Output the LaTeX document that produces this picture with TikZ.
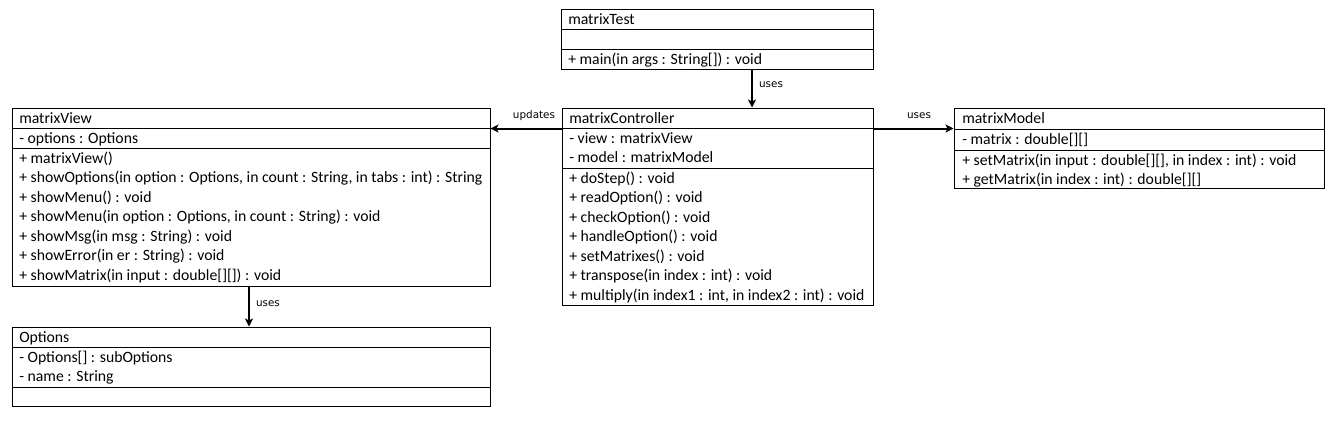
\documentclass[tikz,border=0pt]{standalone}
\usepackage{fontspec}
\setmainfont{Carlito}
\newfontfamily\lblfont{DejaVu Sans}
\usetikzlibrary{arrows.meta,fit}
\begin{document}
\begin{tikzpicture}[x=0.75pt,y=-0.75pt,
  sect/.style={draw, line width=0.75pt, inner sep=0pt},
  row/.style={anchor=west, inner sep=0pt, text height=8.2pt, text depth=1.8pt, font=\fontsize{11.8}{14}\selectfont},
  lbl/.style={font=\lblfont\fontsize{7.8}{9}\selectfont, inner sep=0pt},
  conn/.style={line width=1.5pt, -{Stealth[length=6pt,width=6pt,inset=1.5pt]}}]
\useasboundingbox (0,0) rectangle (1338,426);

% ---------- matrixTest ----------
\node[sect, fit={(561,9)(873,29)}] (mth) {};
\node[sect, fit={(561,29)(873,49)}] (mta) {};
\node[sect, fit={(561,49)(873,69)}] (mtm) {};
\node[row] at (568,20) {matrixTest};
\node[row] at (568,60) {+ main(in args : String[]) : void};

% ---------- matrixController ----------
\node[sect, fit={(562,108)(873,128)}] (mch) {};
\node[sect, fit={(562,128)(873,168)}] (mca) {};
\node[sect, fit={(562,168)(873,305)}] (mcm) {};
\node[row] at (569,119) {matrixController};
\foreach \t [count=\i from 0] in {{- view : matrixView},{- model : matrixModel}}
  \node[row] at (569,139+19.5*\i) {\t};
\foreach \t [count=\i from 0] in {{+ doStep() : void},{+ readOption() : void},{+ checkOption() : void},{+ handleOption() : void},{+ setMatrixes() : void},{+ transpose(in index : int) : void},{+ multiply(in index1 : int, in index2 : int) : void}}
  \node[row] at (569,179+19.5*\i) {\t};

% ---------- matrixView ----------
\node[sect, fit={(12,108)(490,128)}] (mvh) {};
\node[sect, fit={(12,128)(490,148)}] (mva) {};
\node[sect, fit={(12,148)(490,286)}] (mvm) {};
\node[row] at (19,119) {matrixView};
\node[row] at (19,139) {- options : Options};
\foreach \t [count=\i from 0] in {{+ matrixView()},{+ showOptions(in option : Options, in count : String, in tabs : int) : String},{+ showMenu() : void},{+ showMenu(in option : Options, in count : String) : void},{+ showMsg(in msg : String) : void},{+ showError(in er : String) : void},{+ showMatrix(in input : double[][]) : void}}
  \node[row] at (19,159+19.5*\i) {\t};

% ---------- matrixModel ----------
\node[sect, fit={(954,108)(1324,129)}] (mmh) {};
\node[sect, fit={(954,129)(1324,150)}] (mma) {};
\node[sect, fit={(954,150)(1324,188)}] (mmm) {};
\node[row] at (962,119) {matrixModel};
\node[row] at (962,140) {- matrix : double[][]};
\foreach \t [count=\i from 0] in {{+ setMatrix(in input : double[][], in index : int) : void},{+ getMatrix(in index : int) : double[][]}}
  \node[row] at (962,161+19.5*\i) {\t};

% ---------- Options ----------
\node[sect, fit={(12,327)(490,347)}] (oph) {};
\node[sect, fit={(12,347)(490,387)}] (opa) {};
\node[sect, fit={(12,387)(490,406)}] (opm) {};
\node[row] at (19,338) {Options};
\foreach \t [count=\i from 0] in {{- Options[] : subOptions},{- name : String}}
  \node[row] at (19,358+19.5*\i) {\t};

% ---------- connectors ----------
\coordinate (ax) at (752,0);
\draw[conn] (mtm.south -| ax) -- (mch.north -| ax);
\draw[conn] (mch.south west) -- (mch.south west -| mvh.east);
\draw[conn] (mch.south east) -- (mch.south east -| mmh.west);
\coordinate (bx) at (249,0);
\draw[conn] (mvm.south -| bx) -- (oph.north -| bx);

\node[lbl] at (771,85) {uses};
\node[lbl] at (534,116) {updates};
\node[lbl] at (919,116) {uses};
\node[lbl] at (268,304) {uses};
\end{tikzpicture}
\end{document}
